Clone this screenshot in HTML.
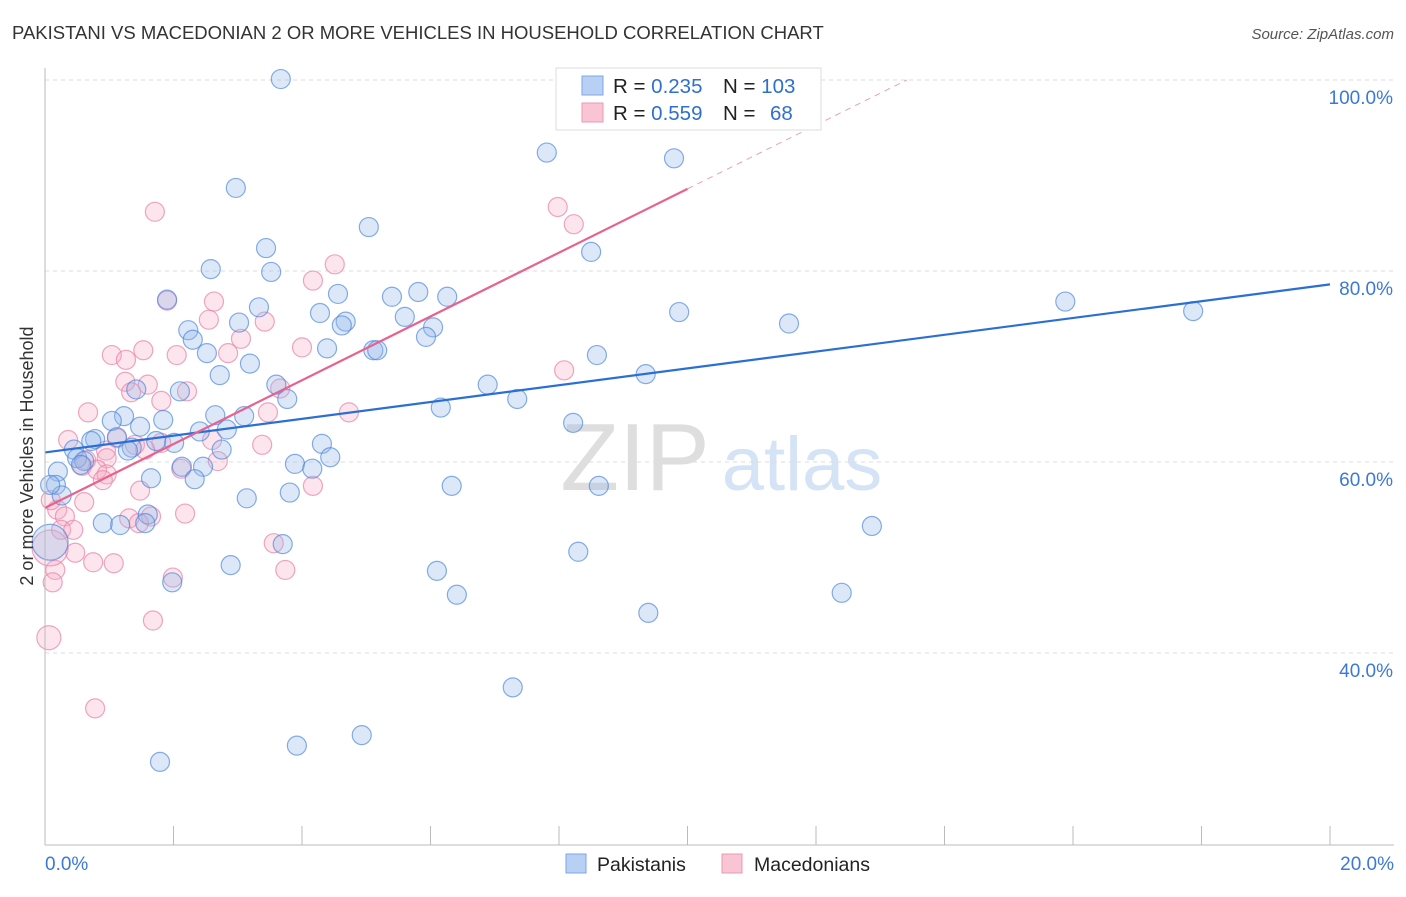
<!DOCTYPE html>
<html><head><meta charset="utf-8"><style>
body{margin:0;background:#fff;font-family:"Liberation Sans",sans-serif}
svg text{font-family:"Liberation Sans",sans-serif}
</style></head><body>
<svg id="chart" width="1406" height="892" viewBox="0 0 1406 892">
<text x="12" y="39" font-size="18.5" fill="#333">PAKISTANI VS MACEDONIAN 2 OR MORE VEHICLES IN HOUSEHOLD CORRELATION CHART</text>
<text x="1394" y="39" font-size="15" fill="#555" font-style="italic" text-anchor="end">Source: ZipAtlas.com</text>
<g>
<text x="635" y="490" font-size="96" fill="#dedede" font-family="Liberation Serif,serif" text-anchor="middle">ZIP</text>
<text x="802" y="490" font-size="76" fill="#d5e3f6" text-anchor="middle">atlas</text>
</g>
<g id="grid"></g>
<g id="marks"></g>
<g id="axes"></g>
<text transform="translate(33,456) rotate(-90)" font-size="18" fill="#333" text-anchor="middle">2 or more Vehicles in Household</text>
<g>
<rect x="556" y="68" width="265" height="62" fill="#fff" stroke="#ddd"/>
<rect x="582" y="76" width="21" height="19" fill="#b7d0f4" stroke="#7da6e3"/>
<rect x="582" y="103" width="21" height="19" fill="#f9c4d4" stroke="#eb9ab5"/>
<text x="613" y="93" font-size="20.5" fill="#222">R = <tspan fill="#2f6fd0">0.235</tspan></text>
<text x="723" y="93" font-size="20.5" fill="#222">N = <tspan fill="#2f6fd0">103</tspan></text>
<text x="613" y="120" font-size="20.5" fill="#222">R = <tspan fill="#2f6fd0">0.559</tspan></text>
<text x="723" y="120" font-size="20.5" fill="#222">N = <tspan fill="#2f6fd0" x="770">68</tspan></text>
</g>
<g>
<rect x="566" y="854" width="20" height="19" fill="#b7d0f4" stroke="#7da6e3"/>
<text x="597" y="871" font-size="19.5" fill="#222">Pakistanis</text>
<rect x="722" y="854" width="20" height="19" fill="#f9c4d4" stroke="#eb9ab5"/>
<text x="754" y="871" font-size="19.5" fill="#222">Macedonians</text>
</g>
</svg>
<script>
const blueX=[3.67,2.97,7.81,9.79,5.04,3.44,8.50,2.58,3.52,1.90,3.33,4.56,5.40,5.81,6.26,4.28,5.60,4.68,4.62,3.02,6.04,5.93,2.23,2.30,9.87,11.58,15.88,17.87,4.39,5.11,5.17,2.52,3.19,8.59,2.72,3.60,3.77,2.10,1.42,6.89,7.35,9.35,6.16,1.23,1.04,2.65,3.10,1.84,1.48,2.83,2.41,8.22,0.78,0.72,1.12,1.73,2.01,1.35,1.29,0.45,0.50,0.61,0.56,2.75,4.31,4.44,3.89,4.16,2.13,2.46,1.65,2.33,0.20,0.17,0.26,0.08,6.33,8.62,3.14,3.81,1.60,1.56,0.90,1.17,12.87,0.08,3.70,8.30,2.89,6.10,1.98,6.41,9.39,12.40,7.28,3.92,4.93,1.79];
const blueY=[100.1,88.7,92.4,91.8,84.6,82.4,82.0,80.2,79.9,77.0,76.2,77.6,77.3,77.8,77.3,75.6,75.2,74.7,74.3,74.6,74.1,73.1,73.8,72.8,75.7,74.5,76.8,75.8,71.9,71.7,71.7,71.4,70.3,71.2,69.1,68.1,66.6,67.4,67.6,68.1,66.6,69.2,65.7,64.8,64.3,64.9,64.8,64.4,63.7,63.4,63.2,64.1,62.4,62.2,62.6,62.2,62.0,61.5,61.2,61.3,60.4,60.1,59.7,61.3,61.9,60.5,59.8,59.3,59.5,59.5,58.3,58.2,59.0,57.6,56.5,57.6,57.5,57.5,56.2,56.8,54.5,53.6,53.6,53.4,53.3,51.6,51.4,50.6,49.2,48.6,47.4,46.1,44.2,46.3,36.4,30.3,31.4,28.6];
const pinkX=[1.71,7.98,8.23,4.51,4.17,1.90,2.63,2.55,3.42,1.53,1.04,2.05,2.85,3.05,4.00,1.26,1.25,1.60,1.34,2.21,1.81,3.66,8.08,4.73,3.47,0.67,0.36,1.12,1.40,1.81,1.56,0.95,2.60,3.38,0.64,0.58,0.96,0.81,0.96,0.90,2.12,2.69,4.17,0.61,1.48,0.19,0.31,0.25,0.44,1.31,1.65,2.18,1.46,3.56,0.47,0.75,1.07,0.16,1.99,3.74,0.12,1.68,0.06,0.78,0.08,0.09];
const pinkY=[86.2,86.7,84.9,80.7,79.0,76.9,76.8,74.9,74.7,71.7,71.2,71.2,71.4,72.9,72.0,70.7,68.4,68.1,67.3,67.4,66.4,67.7,69.6,65.2,65.2,65.2,62.3,62.5,61.8,62.0,61.3,61.2,62.3,61.8,60.2,59.6,60.4,59.2,58.7,58.1,59.3,60.1,57.5,55.8,57.0,55.0,54.3,52.9,52.9,54.1,54.3,54.6,53.6,51.5,50.5,49.5,49.4,48.7,47.9,48.7,47.4,43.4,41.6,34.2,51.0,56.0];
const blueTrend=[61.0,78.6]; // y at x=0 and x=20
const pinkTrend=[55.2,88.6]; // y at x=0 and x=10
const yTicks=[100,80,60,40];
const xTickLabels=["0.0%","20.0%"];

const X0=45,X1=1330,Y20=844,YPER=9.55;
const sx=v=>X0+(v/20)*(X1-X0);
const sy=v=>Y20-(v-20)*YPER;
const NS="http://www.w3.org/2000/svg";
function mk(tag,attrs,parent){const e=document.createElementNS(NS,tag);for(const k in attrs)e.setAttribute(k,attrs[k]);parent.appendChild(e);return e;}
const grid=document.getElementById('grid'),marks=document.getElementById('marks'),axes=document.getElementById('axes');
yTicks.forEach(t=>{
  const l=mk('line',{x1:X0,x2:1394,y1:sy(t),y2:sy(t),stroke:'#ddd','stroke-dasharray':'4,4'},grid);
  
  
  const tx=mk('text',{x:1393,y:sy(t)+24,'font-size':19,fill:'#3b78d8','text-anchor':'end'},axes);
  tx.textContent=t.toFixed(1)+'%';
  
  
});
const ax=mk('line',{x1:X0,x2:1394,y1:845,y2:845,stroke:'#bbb'},axes);


const ay=mk('line',{x1:X0,x2:X0,y1:68,y2:845,stroke:'#bbb'},axes);


for(let i=0;i<=10;i++){
  const tk=mk('line',{x1:sx(i*2),x2:sx(i*2),y1:826,y2:845,stroke:'#bbb'},axes);
  
  
}
const xl0=mk('text',{x:45,y:870,'font-size':19,fill:'#3b78d8'},axes);xl0.textContent=xTickLabels[0];


const xl1=mk('text',{x:1394,y:870,'font-size':19,fill:'#3b78d8','text-anchor':'end'},axes);xl1.textContent=xTickLabels[1];



function pts(xs,ys,fill,stroke,name){
  xs.forEach((x,i)=>{
    const big=(x<0.1&&ys[i]>50&&ys[i]<52.5);
    const c=mk('circle',{cx:sx(x),cy:sy(ys[i]),r:big?18:(x<0.07?12:9.5),fill:fill,stroke:stroke,'stroke-width':1.2},marks);
    
    
  });
}
pts(pinkX,pinkY,'rgba(244,170,195,0.3)','rgba(232,130,165,0.7)','macedonian-point');
pts(blueX,blueY,'rgba(150,185,235,0.33)','rgba(70,130,220,0.65)','pakistani-point');

const bl=mk('line',{x1:sx(0),y1:sy(blueTrend[0]),x2:sx(20),y2:sy(blueTrend[1]),stroke:'#2b6fd6','stroke-width':2.2},marks);


const slope=(pinkTrend[1]-pinkTrend[0])/10;
const pl=mk('line',{x1:sx(0),y1:sy(pinkTrend[0]),x2:sx(10),y2:sy(pinkTrend[1]),stroke:'#e8628f','stroke-width':2.2},marks);


const xe=(100-pinkTrend[0])/slope;
const pd=mk('line',{x1:sx(10),y1:sy(pinkTrend[1]),x2:sx(xe),y2:sy(100),stroke:'#e8a0b8','stroke-width':1,'stroke-dasharray':'6,5'},marks);


</script>
</body></html>
